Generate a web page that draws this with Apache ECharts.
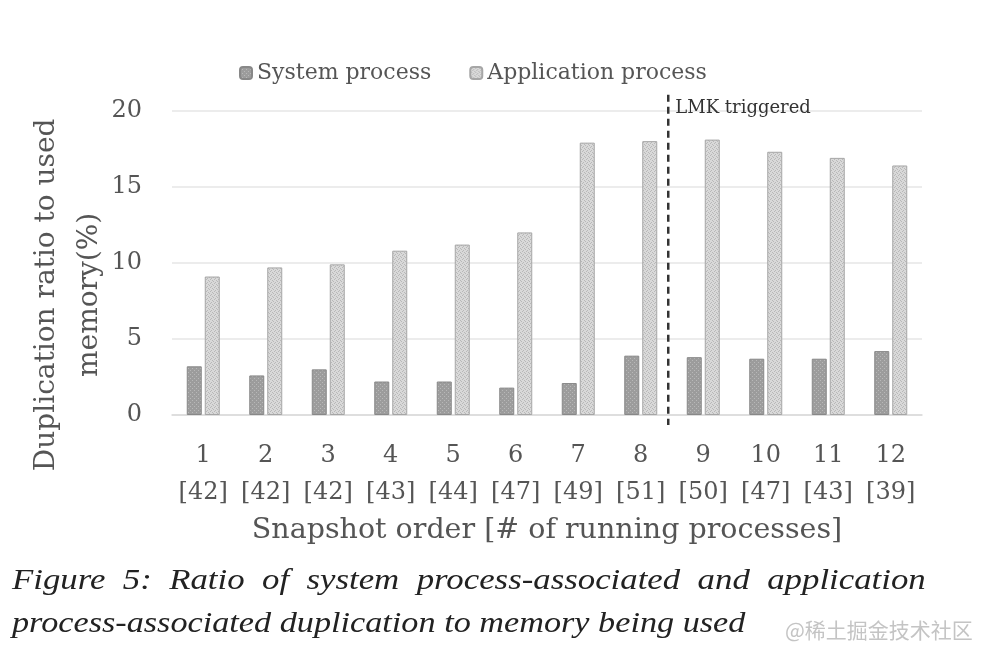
<!DOCTYPE html>
<html><head><meta charset="utf-8">
<script src="https://cdn.jsdelivr.net/npm/echarts@6/dist/echarts.min.js"></script>
<style>html,body{margin:0;padding:0;background:#fff}#c{width:985px;height:655px}</style>
</head><body><div id="c"></div>
<script>
const snapshots = ['1','2','3','4','5','6','7','8','9','10','11','12'];
const runningProcs = ['42','42','42','43','44','47','49','51','50','47','43','39'];
const systemProc = [3.2, 2.6, 3.0, 2.2, 2.2, 1.8, 2.1, 3.9, 3.8, 3.7, 3.7, 4.2];
const appProc = [9.1, 9.7, 9.9, 10.8, 11.2, 12.0, 17.9, 18.0, 18.1, 17.3, 16.9, 16.4];
const yTicks = [0, 5, 10, 15, 20];
const lmkPosition = 7.94; // between snapshot 8 and 9
const captionLines = [
  'Figure  5:  Ratio  of  system  process-associated  and  application',
  'process-associated duplication to memory being used'
];

function makePattern(base, dot, kind) {
  const c = document.createElement('canvas');
  c.width = 4; c.height = 4;
  const g = c.getContext('2d');
  g.fillStyle = base; g.fillRect(0, 0, 4, 4);
  g.fillStyle = dot;
  if (kind === 'dots') { g.fillRect(0, 0, 1, 1); g.fillRect(2, 2, 1, 1); }
  else { g.fillRect(0, 0, 1, 1); g.fillRect(1, 1, 1, 1); g.fillRect(3, 2, 1, 1); g.fillRect(2, 3, 1, 1); }
  return { image: c, repeat: 'repeat' };
}
const sysFill = makePattern('#9c9c9c', '#b8b8b8', 'dots');
const appFill = makePattern('#d9d9d9', '#b8b8b8', 'wave');

const FONT = 'DejaVu Serif';
const chart = echarts.init(document.getElementById('c'));
const cats = snapshots.map((s, i) => s + '\n[' + runningProcs[i] + ']');
chart.setOption({
  animation: false,
  backgroundColor: '#fff',
  legend: {
    top: 57, left: 234, itemWidth: 12, itemHeight: 12, itemGap: 38,
    textStyle: { fontFamily: FONT, fontSize: 22, color: '#555' },
    data: ['System process', 'Application process']
  },
  grid: { left: 172, right: 63, top: 110.7, bottom: 240 },
  xAxis: [{
    type: 'category', data: cats,
    axisLine: { lineStyle: { color: '#d9d9d9', width: 1.5 } },
    axisTick: { show: false },
    axisLabel: { interval: 0, hideOverlap: false, fontFamily: FONT, fontSize: 24, color: '#555', lineHeight: 37, margin: 22 },
    name: 'Snapshot order [# of running processes]',
    nameLocation: 'middle', nameGap: 101,
    nameTextStyle: { fontFamily: FONT, fontSize: 28.5, color: '#555' }
  }, {
    type: 'value', min: 0, max: 12, show: false
  }],
  yAxis: {
    type: 'value', min: 0, max: 20, interval: 5,
    axisLine: { show: false }, axisTick: { show: false },
    splitLine: { lineStyle: { color: '#e6e6e6', width: 1.5 } },
    axisLabel: { fontFamily: FONT, fontSize: 24, color: '#555', margin: 30 },
    name: 'Duplication ratio to used\nmemory(%)',
    nameLocation: 'middle', nameGap: 61, nameRotate: 90, nameMoveOverlap: false,
    nameTextStyle: { fontFamily: FONT, fontSize: 28, color: '#555', lineHeight: 43, padding: [0, 64, 0, 0] }
  },
  series: [{
    name: 'System process', type: 'bar', data: systemProc, barWidth: 15, barGap: '20%',
    itemStyle: { color: sysFill, borderColor: '#888', borderWidth: 1 }
  }, {
    name: 'Application process', type: 'bar', data: appProc, barWidth: 15,
    itemStyle: { color: appFill, borderColor: '#a6a6a6', borderWidth: 1 }
  }]
});

const xPix = chart.convertToPixel({ xAxisIndex: 1 }, lmkPosition);
const yTop = chart.convertToPixel({ yAxisIndex: 0 }, 20);
const yBot = chart.convertToPixel({ yAxisIndex: 0 }, 0);
chart.setOption({
  graphic: [{
    type: 'line', shape: { x1: xPix, y1: yTop - 16, x2: xPix, y2: yBot + 10 },
    style: { stroke: '#333', lineWidth: 2.5, lineDash: [7, 5] }
  }, {
    type: 'text', x: xPix + 7, y: yTop - 2,
    style: { text: 'LMK triggered', font: '18px "DejaVu Serif"', fill: '#333', verticalAlign: 'middle' }
  }, {
    type: 'text', x: 12, y: 581, scaleX: 1.2,
    style: { text: captionLines[0], font: 'italic 29px "Liberation Serif"', fill: '#222', verticalAlign: 'middle' }
  }, {
    type: 'text', x: 12, y: 624, scaleX: 1.18,
    style: { text: captionLines[1], font: 'italic 29px "Liberation Serif"', fill: '#222', verticalAlign: 'middle' }
  }, {
    type: 'text', x: 785, y: 630,
    style: { text: '@稀土掘金技术社区', font: '21px "Noto Sans CJK SC"', fill: '#c4c4c4', verticalAlign: 'middle' }
  }]
});
</script></body></html>
